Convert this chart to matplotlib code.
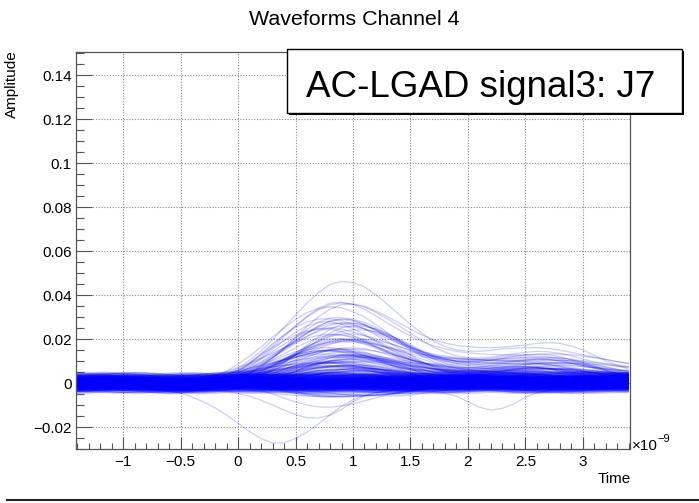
import numpy as np
import matplotlib
matplotlib.use("Agg")
import matplotlib.pyplot as plt
from matplotlib.collections import LineCollection
from matplotlib.ticker import MultipleLocator, FuncFormatter
from matplotlib.patches import Rectangle
from matplotlib.lines import Line2D

plt.rcParams['font.family'] = ['Liberation Sans', 'DejaVu Sans']

# ---------------- data ----------------
# sampling times (units of 1e-9 s)
time_ns = np.round(np.linspace(-1.4, 3.4, 49), 2)

# normalised pulse templates (peak = 1)
shape_a = [0, 0, 0, 0, 0, 0, 0, 0, 0, 0,
           0.005, 0.015, 0.035, 0.07, 0.13, 0.21, 0.31, 0.43, 0.56, 0.69,
           0.81, 0.91, 0.98, 1.0, 0.98, 0.93, 0.85, 0.76, 0.67, 0.58,
           0.50, 0.43, 0.38, 0.34, 0.32, 0.31, 0.31, 0.32, 0.33, 0.34,
           0.35, 0.35, 0.34, 0.32, 0.29, 0.26, 0.23, 0.20, 0.18]
shape_b = [0, 0, 0, 0, 0, 0, 0, 0, 0,
           0.005, 0.015, 0.035, 0.07, 0.13, 0.22, 0.33, 0.46, 0.60, 0.73,
           0.85, 0.94, 0.99, 1.0, 0.97, 0.91, 0.83, 0.73, 0.63, 0.53,
           0.44, 0.36, 0.30, 0.25, 0.22, 0.20, 0.20, 0.21, 0.23, 0.25,
           0.26, 0.26, 0.25, 0.23, 0.21, 0.18, 0.16, 0.14, 0.12, 0.11]
shape_c = [0, 0, 0, 0, 0, 0, 0, 0, 0, 0, 0,
           0.005, 0.015, 0.035, 0.07, 0.13, 0.21, 0.31, 0.43, 0.56, 0.69,
           0.81, 0.91, 0.98, 1.0, 0.98, 0.93, 0.86, 0.78, 0.69, 0.60,
           0.53, 0.48, 0.45, 0.44, 0.44, 0.45, 0.47, 0.49, 0.50, 0.51,
           0.51, 0.49, 0.45, 0.40, 0.34, 0.28, 0.23, 0.19]

# pulse amplitudes (V) for each template
amps_a = [0.046, 0.036, 0.034, 0.033, 0.031, 0.029, 0.027, 0.025, 0.024, 0.022,
          0.021, 0.020, 0.019, 0.018, 0.018, 0.017, 0.016, 0.015, 0.015, 0.014,
          0.013, 0.013, 0.012, 0.012, 0.011, 0.011, 0.010, 0.010, 0.009, 0.009,
          0.008, 0.008, 0.008, 0.007, 0.007, 0.007, 0.006, 0.006, 0.006, 0.005,
          0.005, 0.005, 0.004, 0.004, 0.004, 0.003, 0.003, 0.003, 0.002, 0.002,
          -0.003, -0.005, -0.006, -0.008]
amps_b = [0.035, 0.032, 0.028, 0.026, 0.023, 0.020, 0.019, 0.017, 0.016, 0.014,
          0.013, 0.012, 0.011, 0.010, 0.009, 0.008, 0.007, 0.006, 0.006, 0.005,
          0.004, 0.004, 0.003, 0.003, 0.002, -0.004, -0.007, -0.011]
amps_c = [0.036, 0.030, 0.027, 0.025, 0.022, 0.019, 0.017, 0.015, 0.013, 0.012,
          0.011, 0.010, 0.009, 0.008, 0.007, 0.006, 0.005, 0.004, 0.003,
          -0.004, -0.006]

# baseline offsets (mV)
baselines_mv = [-3.8, -3.2, -2.9, -2.6, -2.4, -2.2, -2.0, -1.8, -1.6, -1.5,
                -1.3, -1.2, -1.0, -0.9, -0.7, -0.6, -0.4, -0.3, -0.2, -0.1,
                0.0, 0.1, 0.2, 0.3, 0.5, 0.6, 0.7, 0.9, 1.0, 1.2,
                1.3, 1.5, 1.7, 1.9, 2.1, 2.3, 2.6, 2.9, 3.3, 3.9]

# slow baseline wiggles (mV)
noise_1 = [0.5, 0.8, 1.0, 0.9, 0.6, 0.2, -0.2, -0.5, -0.7, -0.6,
           -0.3, 0.1, 0.5, 0.8, 0.9, 0.7, 0.3, -0.1, -0.5, -0.8,
           -0.9, -0.7, -0.3, 0.2, 0.6, 0.9, 1.0, 0.8, 0.4, 0.0,
           -0.4, -0.7, -0.8, -0.6, -0.2, 0.2, 0.6, 0.8, 0.7, 0.4,
           0.0, -0.4, -0.7, -0.8, -0.6, -0.2, 0.2, 0.5, 0.7]
noise_2 = [-0.6, -0.4, 0.0, 0.4, 0.7, 0.8, 0.6, 0.2, -0.2, -0.6,
           -0.9, -1.0, -0.8, -0.4, 0.1, 0.5, 0.8, 0.9, 0.7, 0.3,
           -0.1, -0.4, -0.6, -0.5, -0.2, 0.2, 0.6, 0.9, 1.0, 0.8,
           0.4, -0.1, -0.5, -0.8, -0.9, -0.7, -0.3, 0.1, 0.5, 0.8,
           0.9, 0.7, 0.3, -0.1, -0.5, -0.7, -0.7, -0.5, -0.2]
noise_3 = [0.2, -0.1, -0.4, -0.6, -0.6, -0.4, -0.1, 0.3, 0.6, 0.8,
           0.7, 0.4, 0.0, -0.4, -0.7, -0.9, -0.8, -0.5, -0.1, 0.3,
           0.7, 0.9, 0.9, 0.6, 0.2, -0.2, -0.5, -0.7, -0.7, -0.5,
           -0.2, 0.2, 0.5, 0.7, 0.8, 0.6, 0.3, -0.1, -0.5, -0.8,
           -0.9, -0.8, -0.5, -0.1, 0.3, 0.6, 0.8, 0.8, 0.6]
noise_4 = [-0.9, -0.7, -0.3, 0.1, 0.5, 0.7, 0.7, 0.4, 0.0, -0.4,
           -0.6, -0.6, -0.3, 0.1, 0.5, 0.8, 0.9, 0.7, 0.3, -0.2,
           -0.6, -0.9, -0.9, -0.7, -0.3, 0.1, 0.4, 0.6, 0.6, 0.4,
           0.1, -0.2, -0.4, -0.4, -0.2, 0.2, 0.6, 0.9, 1.0, 0.8,
           0.4, -0.1, -0.5, -0.8, -0.8, -0.6, -0.2, 0.2, 0.5]
noise_5 = [0.9, 0.6, 0.2, -0.2, -0.5, -0.7, -0.6, -0.3, 0.1, 0.4,
           0.6, 0.6, 0.4, 0.1, -0.2, -0.4, -0.4, -0.2, 0.2, 0.6,
           0.9, 1.0, 0.8, 0.4, -0.1, -0.5, -0.8, -0.9, -0.7, -0.3,
           0.2, 0.6, 0.9, 0.9, 0.7, 0.3, -0.2, -0.6, -0.8, -0.7,
           -0.4, 0.0, 0.4, 0.6, 0.6, 0.3, 0.0, -0.3, -0.5]
noise_6 = [0.0, 0.3, 0.5, 0.5, 0.3, 0.0, -0.4, -0.8, -1.0, -0.9,
           -0.5, 0.0, 0.5, 0.8, 0.8, 0.5, 0.1, -0.3, -0.5, -0.5,
           -0.3, 0.0, 0.3, 0.5, 0.5, 0.2, -0.2, -0.6, -0.9, -0.9,
           -0.6, -0.1, 0.4, 0.8, 1.0, 0.9, 0.5, 0.1, -0.3, -0.5,
           -0.5, -0.3, 0.0, 0.3, 0.6, 0.7, 0.6, 0.3, 0.0]

# individual outlier waveforms (mV)
deep_negative_mv = [-2.0, -2.1, -2.2, -2.3, -2.4, -2.6, -2.8, -3.1, -3.6, -4.6,
                    -6.4, -8.6, -11.3, -14.6, -18.3, -22.0, -25.3, -27.3, -27.2, -25.2,
                    -22.3, -18.6, -14.5, -10.6, -7.6, -5.6, -4.4, -3.6, -3.1, -2.8,
                    -2.6, -2.4, -2.3, -2.3, -2.2, -2.2, -2.1, -2.0, -1.9, -1.8,
                    -1.7, -1.6, -1.6, -1.6, -1.7, -1.8, -1.9, -2.0, -2.0]
mid_negative_mv = [-1.5, -1.5, -1.6, -1.6, -1.7, -1.7, -1.8, -1.8, -1.9, -2.0,
                   -2.2, -2.5, -3.0, -3.7, -4.7, -6.0, -7.8, -10.0, -12.3, -14.3,
                   -15.8, -15.9, -14.6, -12.0, -8.4, -6.0, -4.5, -3.5, -2.9, -2.5,
                   -2.2, -2.0, -1.9, -1.8, -1.8, -1.7, -1.7, -1.6, -1.6, -1.5,
                   -1.5, -1.4, -1.4, -1.3, -1.3, -1.2, -1.2, -1.2, -1.1]
late_negative_mv = [0.5, 0.6, 0.7, 0.6, 0.5, 0.4, 0.3, 0.3, 0.2, 0.2,
                    0.1, 0.0, -0.2, -0.4, -0.6, -0.8, -1.0, -1.2, -1.4, -1.6,
                    -1.8, -2.0, -2.2, -2.4, -2.6, -2.8, -3.0, -3.2, -3.4, -3.6,
                    -3.8, -4.1, -4.8, -6.0, -8.5, -11.0, -12.3, -11.5, -9.5, -6.5,
                    -4.5, -3.4, -2.8, -2.5, -2.3, -2.2, -2.1, -2.0, -2.0]

x_ticks_major = 0.5
y_ticks_major = 0.02

# ---------------- build traces ----------------
MV = 1e-3
noises = [np.array(n) for n in (noise_1, noise_2, noise_3, noise_4, noise_5, noise_6)]
baselines = np.array(baselines_mv)

traces = []
for b in baselines:
    for n in noises:
        traces.append((b + n) * MV)

k = 0
for shape, amps in ((shape_a, amps_a), (shape_b, amps_b), (shape_c, amps_c)):
    s = np.array(shape)
    for j, a in enumerate(amps):
        idx = 20 if j == 0 else (k * 7 + 20) % len(baselines)
        base = (baselines[idx] + noises[k % len(noises)]) * MV
        traces.append(base + a * s)
        k += 1

for special in (deep_negative_mv, mid_negative_mv, late_negative_mv):
    traces.append(np.array(special) * MV)

segments = [np.column_stack([time_ns, tr]) for tr in traces]

# ---------------- figure ----------------
fig = plt.figure(figsize=(6.99, 5.03), dpi=100)
ax = fig.add_axes([76 / 699, 1 - 449 / 503, (630 - 76) / 699, (449 - 52) / 503])

lc = LineCollection(segments, colors=[(0, 0, 1, 0.2)], linewidths=0.9)
ax.add_collection(lc)

ax.set_xlim(-1.41, 3.41)
ax.set_ylim(-0.030, 0.1505)

ax.xaxis.set_major_locator(MultipleLocator(x_ticks_major))
ax.xaxis.set_minor_locator(MultipleLocator(0.1))
ax.yaxis.set_major_locator(MultipleLocator(y_ticks_major))
ax.yaxis.set_minor_locator(MultipleLocator(0.005))


def fmt(v, pos):
    if abs(v) < 1e-9:
        return "0"
    return f"{v:g}".replace("-", "\u2212")


ax.xaxis.set_major_formatter(FuncFormatter(fmt))
ax.yaxis.set_major_formatter(FuncFormatter(fmt))

tc = '#555555'
ax.tick_params(axis='both', which='both', direction='in', color=tc, width=0.8,
               top=False, right=False, labelsize=11, labelcolor='black')
ax.tick_params(axis='y', which='major', length=11.5, pad=3)
ax.tick_params(axis='y', which='minor', length=5.8)
ax.tick_params(axis='x', which='major', length=8.3, pad=4)
ax.tick_params(axis='x', which='minor', length=4.3)
for sp in ax.spines.values():
    sp.set_color(tc)
    sp.set_linewidth(0.9)

ax.grid(True, which='major', linestyle=(0, (1, 1.5)), color='#888888', linewidth=0.8)
ax.set_axisbelow(True)

# texts
fig.text(354 / 699, 1 - 25 / 503, 'Waveforms Channel 4', ha='center', va='baseline',
         fontsize=15.4)
fig.text(12 / 699, 1 - 50 / 503, 'Amplitude', rotation=90, ha='center', va='top',
         fontsize=11)
fig.text(631 / 699, 1 - 483 / 503, 'Time', ha='right', va='baseline', fontsize=11)
fig.text(632 / 699, 1 - 450 / 503, '\u00d710', ha='left', va='baseline', fontsize=11)
fig.text(657 / 699, 1 - 442 / 503, '\u22129', ha='left', va='baseline', fontsize=8)

# label box
shadow = Rectangle((289 / 699, 1 - 115 / 503), (682 - 287) / 699, 64 / 503,
                   transform=fig.transFigure, facecolor='black', edgecolor='none',
                   zorder=5)
box = Rectangle((287 / 699, 1 - 113 / 503), (682 - 287) / 699, 64 / 503,
                transform=fig.transFigure, facecolor='white', edgecolor='black',
                linewidth=1.0, zorder=6)
fig.add_artist(shadow)
fig.add_artist(box)
t = fig.text(480.5 / 699, 1 - 97 / 503, 'AC-LGAD signal3: J7', ha='center',
             va='baseline', fontsize=26.5)
t.set_zorder(7)

fig.add_artist(Line2D([7 / 699, 1.0], [1 - 499.5 / 503, 1 - 499.5 / 503],
                      transform=fig.transFigure, color='#222222', linewidth=1.5))

fig.savefig('out.png', dpi=100)
